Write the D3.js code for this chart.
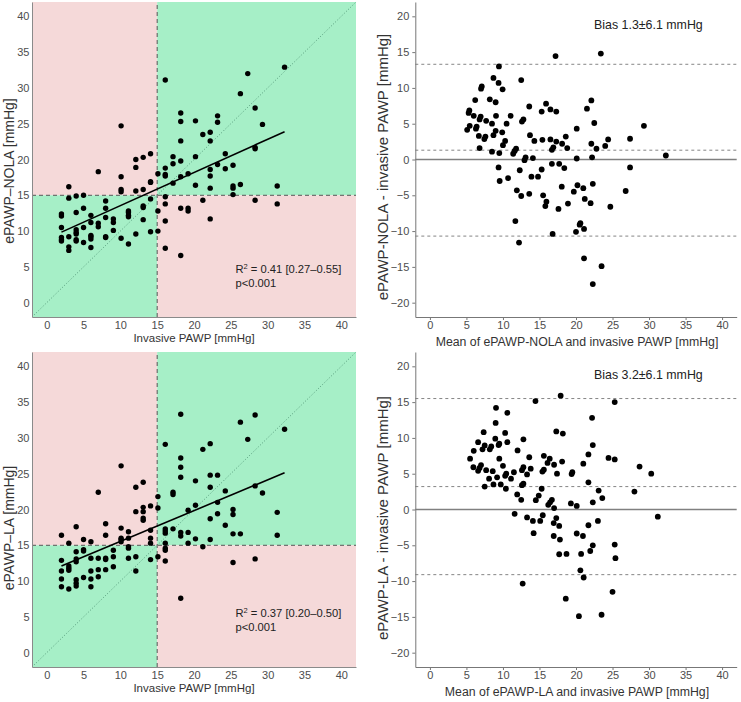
<!DOCTYPE html>
<html>
<head>
<meta charset="utf-8">
<script src="https://cdn.jsdelivr.net/npm/d3@7"></script>
<style>
body { margin: 0; background: #fff; }
svg text { font-family: "Liberation Sans", Arial, sans-serif; }
</style>
</head>
<body>
<div id="main"></div>
<script>
// invasive PAWP values, one column of points per value (as placed on the x axis)
var invasiveCols = [2, 3, 4, 5, 6, 7, 8, 9.05, 10.1, 11.1, 12.1, 13.1, 14.1, 15.1, 16.1, 17.15, 18.2, 19.2, 20.2, 21.2,
    22.2, 23.2, 24.25, 25.3, 26.3, 27.3, 28.3, 29.3, 31.3, 32.3];

// ePAWP-NOLA per invasive column
var nolaByCol = [
    [12.4, 12.1, 10.5, 9.1, 8.8, 8.6],
    [16.2, 14.6, 9.2, 7.8, 7.3],
    [14.9, 12.6, 10.2, 9.8, 9.6, 8.8, 8.6],
    [15.0, 13.2, 10.5, 8.4],
    [12.2, 11.2, 9.4, 9.2, 8.9, 7.7],
    [18.3, 11.1, 10.6],
    [14.2, 13.2, 11.9, 9.2, 9.1],
    [11.7, 11.2, 10.1],
    [24.7, 17.6, 15.8, 15.5, 9.0],
    [12.8, 12.6, 12.2, 12.0, 8.2],
    [20.0, 18.9, 15.6, 9.6],
    [20.3, 15.8, 13.5, 13.3, 11.6],
    [20.8, 16.9, 16.8, 14.5, 9.9],
    [18.0, 12.8, 10.0],
    [31.1, 18.8, 17.9, 17.7, 14.8, 13.8, 11.4, 7.6],
    [20.4, 19.4, 16.7],
    [26.5, 25.3, 22.6, 19.8, 17.6, 13.2, 6.6],
    [18.0, 13.2, 12.8],
    [25.4, 20.4, 16.4],
    [23.5, 14.3],
    [23.8, 22.6, 18.6, 17.7, 16.0, 11.7],
    [26.1, 25.2, 19.3],
    [20.8, 18.7],
    [19.2, 16.3, 16.0, 15.1],
    [29.2, 16.5],
    [32.0],
    [27.2, 21.7, 21.5, 14.3],
    [24.9],
    [16.3, 13.8],
    [32.9]
];

// ePAWP-LA per invasive column
var laByCol = [
    [16.4, 12.9, 11.4, 10.3, 9.2],
    [15.3, 12.1, 11.8, 11.5, 8.9],
    [17.6, 14.1, 13.1, 12.7, 10.2, 9.7, 9.3],
    [15.8, 14.4, 14.2, 10.5],
    [15.5, 13.2, 11.4, 10.3, 9.2],
    [22.4, 13.2, 11.6, 10.6],
    [18.0, 16.4, 13.2, 13.0, 11.6],
    [14.3, 13.4, 12.0],
    [26.1, 17.4, 16.0, 15.8, 15.5],
    [16.9, 16.0, 14.8, 14.6, 13.2],
    [23.1, 19.7, 13.4, 11.4],
    [23.8, 20.3, 19.7, 18.8, 18.5],
    [20.5, 17.1, 16.0, 15.3, 13.0],
    [21.8, 20.2, 13.4],
    [29.1, 17.3, 17.0, 16.7, 15.3, 14.6, 14.3, 12.8],
    [22.4, 22.1, 17.3],
    [33.3, 27.2, 25.9, 24.5, 16.8, 16.3, 7.6],
    [19.9, 16.8, 15.3],
    [24.0, 20.6, 15.9],
    [28.4, 14.8],
    [29.2, 24.8, 23.1, 18.7, 15.8],
    [24.8, 21.0, 19.4],
    [22.6, 17.8],
    [20.0, 19.3, 16.6, 12.6],
    [32.2, 16.6],
    [29.8],
    [33.2, 23.3, 13.1],
    [22.3],
    [19.6, 16.4],
    [31.2]
];

// regression lines: [intercept, slope]
var nolaFit = [8.93, 0.463];
var laFit = [11.24, 0.43];

// Bland-Altman: mean and difference
var nolaMean = [17.2, 9.45, 8.7, 9.4, 9.95, 12.5, 7.1, 7.0, 8.2, 9.0, 6.2, 5.4, 5.3, 6.0, 6.95, 6.8, 7.7, 8.5, 9.05, 10.5,
    11.05, 5.45, 5.1, 6.4, 6.3, 9.0, 8.7, 9.9, 6.7, 7.6, 7.45, 10.3, 10.0, 6.8, 8.5, 9.5, 11.8, 11.6, 11.4, 13.6,
    12.6, 12.8, 13.7, 14.3, 15.4, 15.9, 15.3, 16.5, 17.3, 16.5, 17.3, 16.9, 16.7, 18.1, 18.6, 18.8, 13.1, 12.95, 14.1, 9.4,
    9.55, 10.7, 12.3, 13.9, 14.8, 15.3, 16.7, 17.7, 18.4, 11.9, 12.5, 13.6, 15.5, 15.95, 15.8, 18.05, 17.6, 18.9, 11.7, 16.8,
    12.2, 23.4, 22.1, 21.5, 22.5, 20.1, 22.1, 22.8, 24.0, 24.4, 27.4, 29.3, 32.3, 20.1, 22.2, 27.4, 20.2, 19.7, 21.0, 22.3,
    26.8, 21.2, 22.0, 24.7, 20.6, 20.5, 21.1, 20.0, 21.1, 23.5, 22.3];
var nolaDiff = [14.45, 13.0, 11.4, 10.7, 9.8, 11.1, 10.2, 9.9, 8.4, 8.0, 8.3, 6.85, 6.5, 6.1, 6.0, 5.6, 5.4, 5.0, 6.1, 5.0,
    6.1, 4.7, 4.15, 4.6, 4.3, 4.0, 3.4, 3.8, 3.3, 3.2, 2.85, 2.6, 2.0, 1.6, 1.1, 0.9, 1.5, 1.2, 0.8, 7.4,
    5.3, 5.6, 3.4, 2.6, 2.75, 7.8, 6.7, 7.0, 6.7, 2.8, 2.5, 1.7, 1.35, 2.2, 3.2, 1.6, 0.3, -0.1, 0.2, -1.1,
    -3.0, -2.6, -1.5, -2.4, -2.4, -1.4, -0.6, -0.6, -1.2, -4.3, -5.1, -4.8, -5.0, -5.9, -6.5, -3.8, -6.9, -6.15, -8.6, -10.4,
    -11.6, 14.8, 8.25, 7.1, 5.1, 4.3, 2.2, 1.5, 1.9, 2.8, 2.9, 4.7, 0.56, 0.14, 0.3, -1.1, -3.6, -4.5, -4.0, -3.4,
    -4.4, -5.5, -6.1, -6.6, -8.9, -9.1, -9.7, -10.1, -13.8, -14.9, -17.4];

var laMean = [17.9, 14.45, 9.05, 10.6, 9.0, 17.3, 18.2, 7.36, 10.3, 12.8, 6.6, 8.95, 9.5, 9.4, 10.6, 7.5, 7.2, 8.4, 8.2, 6.0,
    12.0, 5.5, 9.5, 13.6, 15.6, 16.4, 16.1, 17.0, 18.1, 5.95, 7.0, 6.8, 6.6, 7.7, 8.6, 10.0, 10.45, 10.3, 11.1, 11.5,
    12.8, 12.6, 13.3, 13.8, 15.6, 15.4, 17.4, 8.1, 9.2, 8.7, 9.7, 7.5, 10.4, 12.8, 12.6, 15.3, 11.95, 12.5, 14.9, 14.5,
    16.7, 16.45, 16.2, 17.0, 11.6, 13.3, 14.1, 15.1, 15.45, 17.3, 16.95, 17.7, 14.2, 16.95, 17.8, 17.7, 18.7, 12.7, 18.6,
    25.3, 22.2, 22.3, 21.7, 24.45, 25.3, 28.7, 30.3, 19.5, 19.4, 21.0, 21.7, 23.1, 23.6, 22.3, 28.0, 19.3, 20.1, 31.2, 21.7,
    23.0, 20.1, 20.95, 22.3, 21.95, 25.3, 25.4, 20.7, 20.6, 21.05, 25.0, 20.4, 23.5];
var laDiff = [15.9, 15.15, 14.2, 13.5, 12.1, 10.9, 10.6, 10.8, 10.7, 9.8, 9.4, 9.9, 9.2, 9.0, 9.4, 8.95, 8.4, 8.8, 8.4, 8.2,
    8.25, 7.1, 7.1, 7.3, 7.5, 7.1, 6.5, 6.25, 6.7, 5.9, 6.2, 5.8, 5.4, 5.5, 5.35, 6.1, 5.0, 4.7, 4.3, 5.2,
    5.9, 5.5, 4.9, 5.7, 5.55, 5.3, 5.0, 4.3, 4.5, 3.5, 3.5, 3.2, 2.9, 3.6, 3.4, 2.9, 2.1, 1.35, 1.95, 1.3,
    1.35, 1.0, 0.65, 0.2, -0.6, -1.1, -1.6, -1.6, -0.8, -1.2, -1.9, -2.3, -3.3, -3.7, -4.2, -6.25, -6.2, -10.35, -12.45,
    15.0, 12.8, 9.0, 7.7, 7.2, 7.0, 6.0, 5.0, 5.2, 4.95, 6.4, 3.8, 2.65, 1.6, 1.0, 2.5, 0.85, 0.5, -1.0, -2.2,
    -1.6, -3.35, -3.7, -5.0, -5.8, -4.9, -6.8, -6.2, -8.5, -9.5, -11.5, -14.9, -14.7];

// upper limit, bias, lower limit
var nolaLimits = [13.3, 1.3, -10.7];
var laLimits = [15.5, 3.2, -9.1];

var scatterTicks = [0, 5, 10, 15, 20, 25, 30, 35, 40];
var diffTicks = [-20, -15, -10, -5, 0, 5, 10, 15, 20];
var cutoff = 15;

var pink = "#f5d9d9";
var green = "#a6efc7";

var svg = d3.select("#main").append("svg").attr("width", 741).attr("height", 702);

function styleAxis(a, col, fs) {
    a.select(".domain").attr("stroke", col).attr("stroke-width", 1);
    a.selectAll(".tick line").attr("stroke", col);
    a.selectAll(".tick text").attr("fill", "#4d4d4d").style("font-size", fs + "px");
}

function drawScatter(top, byCol, fit, yTitle, yTitleMid, r2, r2Base) {
    var x = d3.scaleLinear().domain([-2, 42]).range([32, 356]);
    var y = d3.scaleLinear().domain([-2, 42]).range([top + 315, top]);
    var g = svg.append("g");

    var quads = [
        { x: [-2, cutoff], y: [cutoff, 42], fill: pink },
        { x: [cutoff, 42], y: [cutoff, 42], fill: green },
        { x: [-2, cutoff], y: [-2, cutoff], fill: green },
        { x: [cutoff, 42], y: [-2, cutoff], fill: pink }
    ];
    g.selectAll("rect.q").data(quads).enter().append("rect")
        .attr("x", function (d) { return x(d.x[0]); })
        .attr("width", function (d) { return x(d.x[1]) - x(d.x[0]); })
        .attr("y", function (d) { return y(d.y[1]); })
        .attr("height", function (d) { return y(d.y[0]) - y(d.y[1]); })
        .attr("fill", function (d) { return d.fill; });

    // line of identity
    g.append("line")
        .attr("x1", x(-2)).attr("y1", y(-2)).attr("x2", x(42)).attr("y2", y(42))
        .attr("stroke", "#4b8f70").attr("stroke-width", 0.9).attr("stroke-dasharray", "1,2");

    // cut-off lines
    g.append("line").attr("x1", x(cutoff)).attr("x2", x(cutoff)).attr("y1", y(-2)).attr("y2", y(42))
        .attr("stroke", "#555").attr("stroke-width", 1).attr("stroke-dasharray", "4,3");
    g.append("line").attr("x1", x(-2)).attr("x2", x(42)).attr("y1", y(cutoff)).attr("y2", y(cutoff))
        .attr("stroke", "#555").attr("stroke-width", 1).attr("stroke-dasharray", "4,3");

    var pts = [];
    byCol.forEach(function (vals, i) {
        vals.forEach(function (v) { pts.push([invasiveCols[i], v]); });
    });
    var xmin = d3.min(pts, function (d) { return d[0]; });
    var xmax = d3.max(pts, function (d) { return d[0]; });

    g.append("line")
        .attr("x1", x(xmin)).attr("y1", y(fit[0] + fit[1] * xmin))
        .attr("x2", x(xmax)).attr("y2", y(fit[0] + fit[1] * xmax))
        .attr("stroke", "#000").attr("stroke-width", 1.6);

    g.selectAll("circle").data(pts).enter().append("circle")
        .attr("cx", function (d) { return x(d[0]); })
        .attr("cy", function (d) { return y(d[1]); })
        .attr("r", 2.7).attr("fill", "#000");

    var xa = g.append("g").attr("transform", "translate(0," + (top + 315) + ")")
        .call(d3.axisBottom(x).tickValues(scatterTicks).tickSize(0).tickSizeOuter(0).tickPadding(4.5));
    styleAxis(xa, "#8a8a8a", 11);
    var ya = g.append("g").attr("transform", "translate(32,0)")
        .call(d3.axisLeft(y).tickValues(scatterTicks).tickSize(0).tickSizeOuter(0).tickPadding(2.5));
    styleAxis(ya, "#8a8a8a", 11);

    g.append("text").attr("x", 194).attr("y", top + 340)
        .attr("text-anchor", "middle").attr("fill", "#333").style("font-size", "11.5px")
        .text("Invasive PAWP [mmHg]");
    g.append("text").attr("transform", "translate(13.5," + yTitleMid + ") rotate(-90)")
        .attr("text-anchor", "middle").attr("fill", "#333").style("font-size", "14px")
        .text(yTitle);

    var t = g.append("text").attr("x", 235.5).attr("y", r2Base).attr("fill", "#222").style("font-size", "11.2px");
    t.append("tspan").text("R");
    t.append("tspan").attr("dy", -4).style("font-size", "7.5px").text("2");
    t.append("tspan").attr("dy", 4).text(" = " + r2);
    g.append("text").attr("x", 235.5).attr("y", r2Base + 14).attr("fill", "#222").style("font-size", "11.2px")
        .text("p<0.001");
}

function drawBA(top, means, diffs, limits, yTitle, yTitleMid, xTitle, biasText) {
    var x = d3.scaleLinear().domain([-2, 42]).range([415.3, 736.7]);
    var y = d3.scaleLinear().domain([-22, 22]).range([top + 315, top]);
    var g = svg.append("g");

    g.selectAll("line.lim").data(limits).enter().append("line")
        .attr("x1", x(-2)).attr("x2", x(42))
        .attr("y1", function (d) { return y(d); }).attr("y2", function (d) { return y(d); })
        .attr("stroke", "#777").attr("stroke-width", 0.9).attr("stroke-dasharray", "3,3");
    g.append("line").attr("x1", x(-2)).attr("x2", x(42)).attr("y1", y(0)).attr("y2", y(0))
        .attr("stroke", "#808080").attr("stroke-width", 1.4);

    g.selectAll("circle").data(means).enter().append("circle")
        .attr("cx", function (d) { return x(d); })
        .attr("cy", function (d, i) { return y(diffs[i]); })
        .attr("r", 2.9).attr("fill", "#000");

    var xa = g.append("g").attr("transform", "translate(0," + (top + 315) + ")")
        .call(d3.axisBottom(x).tickValues(scatterTicks).tickSize(3).tickSizeOuter(0).tickPadding(1.5));
    styleAxis(xa, "#777", 11);
    var ya = g.append("g").attr("transform", "translate(415.3,0)")
        .call(d3.axisLeft(y).tickValues(diffTicks).tickSize(3).tickSizeOuter(0).tickPadding(3));
    styleAxis(ya, "#777", 11);

    g.append("text").attr("x", 577).attr("y", top + 344)
        .attr("text-anchor", "middle").attr("fill", "#333").style("font-size", "12.3px")
        .text(xTitle);
    g.append("text").attr("transform", "translate(388," + yTitleMid + ") rotate(-90)")
        .attr("text-anchor", "middle").attr("fill", "#333").style("font-size", "15px")
        .text(yTitle);
    g.append("text").attr("x", 594).attr("y", top + 27.3).attr("fill", "#222").style("font-size", "12.4px")
        .text(biasText);
}

drawScatter(2, nolaByCol, nolaFit, "ePAWP\u2013NOLA [mmHg]", 171, "0.41 [0.27\u20130.55]", 272.5);
drawScatter(352, laByCol, laFit, "ePAWP\u2013LA [mmHg]", 528, "0.37 [0.20\u20130.50]", 616.7);
drawBA(2, nolaMean, nolaDiff, nolaLimits, "ePAWP-NOLA - invasive PAWP [mmHg]", 167,
    "Mean of ePAWP-NOLA and invasive PAWP [mmHg]", "Bias 1.3\u00b16.1 mmHg");
drawBA(352, laMean, laDiff, laLimits, "ePAWP-LA - invasive PAWP [mmHg]", 518,
    "Mean of ePAWP-LA and invasive PAWP [mmHg]", "Bias 3.2\u00b16.1 mmHg");
</script>
</body>
</html>
